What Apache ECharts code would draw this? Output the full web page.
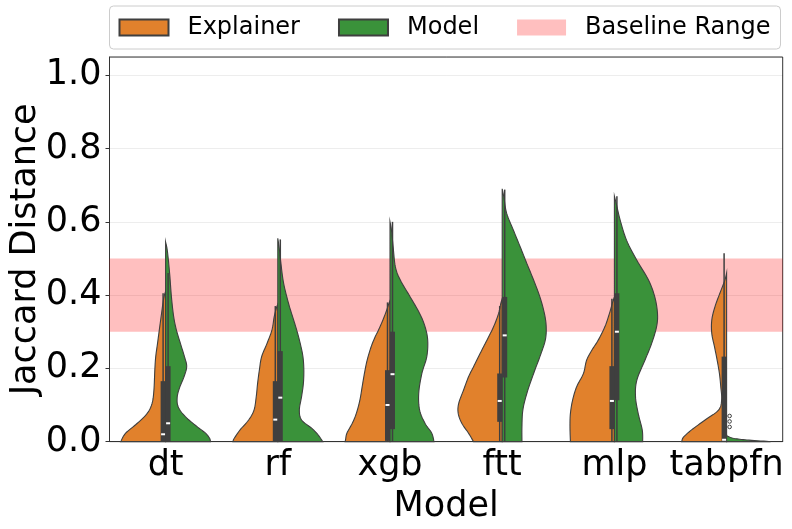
<!DOCTYPE html>
<html>
<head>
<meta charset="utf-8">
<script src="https://cdn.jsdelivr.net/npm/echarts@6/dist/echarts.min.js"></script>
<style>html,body{margin:0;padding:0;background:#fff;}#chart{width:792px;height:529px;}</style>
</head>
<body>
<div id="chart"></div>
<script>
// ---------- data ----------
const categories = ['dt', 'rf', 'xgb', 'ftt', 'mlp', 'tabpfn'];
const yTickLabels = ['0.0', '0.2', '0.4', '0.6', '0.8', '1.0'];
const baselineRange = [0.3, 0.5];

// half-violin profiles: [value, relative density] from bottom to top
const explainerViolins = [
  [[0,1.0],[0.023,0.89],[0.05,0.63],[0.077,0.41],[0.105,0.30],[0.141,0.26],[0.196,0.24],[0.232,0.22],[0.268,0.18],[0.305,0.14],[0.341,0.10],[0.377,0.06],[0.398,0.03],[0.41,0]],
  [[0,1.0],[0.009,0.97],[0.032,0.84],[0.059,0.65],[0.086,0.53],[0.123,0.48],[0.159,0.45],[0.196,0.41],[0.232,0.36],[0.268,0.24],[0.305,0.13],[0.341,0.08],[0.365,0.03],[0.375,0]],
  [[0,1.0],[0.005,0.99],[0.023,0.96],[0.05,0.84],[0.077,0.75],[0.114,0.67],[0.150,0.62],[0.186,0.57],[0.222,0.51],[0.259,0.42],[0.286,0.33],[0.314,0.22],[0.350,0.10],[0.375,0.03],[0.385,0]],
  [[0,0.64],[0.023,0.75],[0.05,0.90],[0.077,0.98],[0.104,0.97],[0.141,0.86],[0.177,0.75],[0.204,0.64],[0.241,0.49],[0.277,0.34],[0.314,0.19],[0.350,0.08],[0.378,0.03],[0.39,0]],
  [[0,0.98],[0.041,0.99],[0.077,0.98],[0.114,0.93],[0.150,0.84],[0.186,0.69],[0.222,0.62],[0.250,0.50],[0.277,0.36],[0.314,0.21],[0.350,0.11],[0.38,0.04],[0.395,0]],
  [[0,1.0],[0.012,0.96],[0.032,0.78],[0.059,0.48],[0.086,0.18],[0.114,0.11],[0.150,0.13],[0.186,0.16],[0.222,0.21],[0.259,0.27],[0.295,0.33],[0.332,0.33],[0.368,0.26],[0.405,0.15],[0.44,0.04],[0.46,0]]
];
const modelViolins = [
  [[0,1.0],[0.009,0.98],[0.023,0.89],[0.041,0.70],[0.068,0.44],[0.095,0.28],[0.123,0.26],[0.150,0.32],[0.177,0.41],[0.205,0.47],[0.232,0.42],[0.268,0.33],[0.305,0.24],[0.341,0.18],[0.395,0.13],[0.459,0.09],[0.52,0.04],[0.545,0]],
  [[0,1.0],[0.018,0.90],[0.036,0.76],[0.059,0.53],[0.086,0.48],[0.123,0.53],[0.159,0.57],[0.196,0.58],[0.232,0.56],[0.268,0.50],[0.305,0.42],[0.341,0.33],[0.377,0.24],[0.432,0.13],[0.486,0.07],[0.53,0.03],[0.555,0]],
  [[0,0.98],[0.023,0.93],[0.05,0.78],[0.086,0.66],[0.132,0.64],[0.186,0.71],[0.232,0.82],[0.277,0.84],[0.314,0.78],[0.350,0.66],[0.395,0.45],[0.441,0.23],[0.477,0.12],[0.532,0.07],[0.58,0.03],[0.60,0]],
  [[0,0.44],[0.041,0.44],[0.086,0.46],[0.132,0.55],[0.186,0.70],[0.232,0.84],[0.277,0.96],[0.314,0.98],[0.350,0.94],[0.395,0.84],[0.441,0.70],[0.486,0.55],[0.532,0.40],[0.577,0.25],[0.623,0.10],[0.665,0.04],[0.69,0]],
  [[0,0.63],[0.032,0.62],[0.077,0.53],[0.123,0.47],[0.168,0.50],[0.222,0.68],[0.268,0.83],[0.314,0.94],[0.350,0.96],[0.395,0.90],[0.441,0.76],[0.495,0.50],[0.550,0.27],[0.604,0.13],[0.645,0.05],[0.67,0]],
  [[0,0.98],[0.004,0.50],[0.008,0.20],[0.013,0.05],[0.018,0]]
];

// inner boxes: [whisker low, q1, median, q3, whisker high]
const explainerBoxes = [
  [0, 0, 0.02, 0.165, 0.405],
  [0, 0, 0.06, 0.165, 0.37],
  [0, 0.002, 0.10, 0.195, 0.38],
  [0, 0.054, 0.111, 0.186, 0.37],
  [0, 0.034, 0.111, 0.206, 0.39],
  [0, 0, 0.005, 0.232, 0.514]
];
const modelBoxes = [
  [0, 0, 0.05, 0.206, 0.46],
  [0, 0, 0.12, 0.247, 0.552],
  [0, 0.034, 0.184, 0.30, 0.60],
  [0, 0.175, 0.29, 0.395, 0.688],
  [0, 0.113, 0.30, 0.405, 0.67],
  [0, 0, 0, 0, 0]
];
const modelOutliers = [[5, 0.07], [5, 0.055], [5, 0.04]];

// ---------- styles ----------
const ORANGE = '#e1812c';
const GREEN = '#3a923a';
const EDGE = '#3f3f3f';
const PINK = 'rgba(255,0,0,0.25)';
const FONT = 'DejaVu Sans';

function catmull(pts, steps) {
  const out = [];
  const n = pts.length;
  for (let i = 0; i < n - 1; i++) {
    const p0 = pts[i - 1] || pts[i], p1 = pts[i], p2 = pts[i + 1], p3 = pts[i + 2] || pts[i + 1];
    for (let s = 0; s < steps; s++) {
      const t = s / steps, t2 = t * t, t3 = t2 * t;
      const f = (a, b, c, d) => 0.5 * ((2 * b) + (-a + c) * t + (2 * a - 5 * b + 4 * c - d) * t2 + (-a + 3 * b - 3 * c + d) * t3);
      out.push([f(p0[0], p1[0], p2[0], p3[0]), f(p0[1], p1[1], p2[1], p3[1])]);
    }
  }
  out.push(pts[n - 1]);
  return out;
}

function violinRender(profiles, side, color) {
  return function (params, api) {
    const i = api.value(0);
    const prof = profiles[i];
    const band = api.size([1, 0])[0];
    const cx = api.coord([i, 0])[0];
    const pts = prof.map(function (p) {
      const c = api.coord([i, p[0]]);
      return [cx + side * p[1] * 0.4 * band, c[1]];
    });
    const sm = catmull(pts, 8).map(function (p) {
      return [side < 0 ? Math.min(p[0], cx) : Math.max(p[0], cx), p[1]];
    });
    const poly = [[cx, pts[0][1]]].concat(sm).concat([[cx, pts[pts.length - 1][1]]]);
    return {
      type: 'polygon',
      shape: { points: poly },
      style: { fill: color, stroke: EDGE, lineWidth: 1.1 }
    };
  };
}

function boxRender(boxes, side) {
  return function (params, api) {
    const i = api.value(0);
    const b = boxes[i];
    const cx = api.coord([i, 0])[0];
    const bw = 5;
    const x0 = side < 0 ? cx - bw : cx;
    const mx = x0 + bw / 2;
    const yLo = api.coord([i, b[0]])[1], yQ1 = api.coord([i, b[1]])[1], yMed = api.coord([i, b[2]])[1],
          yQ3 = api.coord([i, b[3]])[1], yHi = api.coord([i, b[4]])[1];
    const children = [];
    if (b[4] > b[0]) {
      children.push({ type: 'line', shape: { x1: mx, y1: yLo, x2: mx, y2: yHi }, style: { stroke: EDGE, lineWidth: 1.5 } });
    }
    if (b[3] > b[1]) {
      children.push({ type: 'rect', shape: { x: x0, y: yQ3, width: bw, height: yQ1 - yQ3 }, style: { fill: EDGE } });
      children.push({ type: 'rect', shape: { x: mx - 2, y: yMed - 1, width: 4, height: 2 }, style: { fill: '#ffffff' } });
    }
    return { type: 'group', children: children };
  };
}

const chart = echarts.init(document.getElementById('chart'), null, { renderer: 'canvas' });
const catData = categories.map(function (c, i) { return [i, 0]; });

const option = {
  animation: false,
  backgroundColor: '#ffffff',
  textStyle: { fontFamily: FONT },
  legend: {
    left: 109.5,
    top: 6,
    data: ['Explainer', 'Model', 'Baseline Range'],
    itemWidth: 49,
    itemHeight: 16,
    itemGap: 38,
    padding: [9, 10, 9, 9],
    borderColor: '#cccccc',
    borderWidth: 1,
    borderRadius: 4,
    icon: 'rect',
    textStyle: { fontFamily: FONT, fontSize: 24, color: '#000', padding: [0, 0, 0, 14], lineHeight: 25 }
  },
  grid: {
    left: 109.5, right: 9.3, top: 57, bottom: 87.4,
    outerBoundsMode: 'none', containLabel: false,
    show: true, borderColor: '#333', borderWidth: 1, backgroundColor: 'transparent'
  },
  xAxis: {
    type: 'category',
    data: categories,
    name: 'Model',
    nameLocation: 'middle',
    nameGap: 48,
    nameMoveOverlap: false,
    nameTextStyle: { fontFamily: FONT, fontSize: 35, color: '#000' },
    axisLine: { lineStyle: { color: '#333', width: 1 } },
    axisTick: { alignWithLabel: true, length: 4, lineStyle: { color: '#333' } },
    axisLabel: { fontFamily: FONT, fontSize: 35, color: '#000', margin: 7, interval: 0 },
    splitLine: { show: false }
  },
  yAxis: {
    type: 'value',
    min: 0, max: 1.05, interval: 0.2,
    name: 'Jaccard Distance',
    nameLocation: 'middle',
    nameGap: 66,
    nameMoveOverlap: false,
    nameTextStyle: { fontFamily: FONT, fontSize: 35, color: '#000' },
    axisLine: { show: true, lineStyle: { color: '#333', width: 1 } },
    axisTick: { show: true, length: 4, lineStyle: { color: '#333' } },
    axisLabel: {
      fontFamily: FONT, fontSize: 35, color: '#000', margin: 8,
      formatter: function (v) { const k = Math.round(v / 0.2); return yTickLabels[k] !== undefined ? yTickLabels[k] : ''; }
    },
    splitLine: { show: true, lineStyle: { color: 'rgba(0,0,0,0.07)', width: 1 } }
  },
  series: [
    {
      name: 'Baseline Range', type: 'custom', z: 1,
      itemStyle: { color: PINK, borderWidth: 0 },
      data: [[0, baselineRange[0]]],
      encode: { x: 0, y: 1 },
      renderItem: function (params, api) {
        const cs = params.coordSys;
        const yTop = api.coord([0, baselineRange[1]])[1];
        const yBot = api.coord([0, baselineRange[0]])[1];
        return { type: 'rect', shape: { x: cs.x, y: yTop, width: cs.width, height: yBot - yTop }, style: { fill: PINK } };
      }
    },
    {
      name: 'Explainer', type: 'custom', z: 2,
      itemStyle: { color: ORANGE, borderColor: EDGE, borderWidth: 1 },
      data: catData, encode: { x: 0, y: 1 },
      renderItem: violinRender(explainerViolins, -1, ORANGE)
    },
    {
      name: 'Model', type: 'custom', z: 2,
      itemStyle: { color: GREEN, borderColor: EDGE, borderWidth: 1 },
      data: catData, encode: { x: 0, y: 1 },
      renderItem: violinRender(modelViolins, 1, GREEN)
    },
    {
      name: 'Explainer box', type: 'custom', z: 3,
      data: catData, encode: { x: 0, y: 1 },
      renderItem: boxRender(explainerBoxes, -1)
    },
    {
      name: 'Model box', type: 'custom', z: 3,
      data: catData, encode: { x: 0, y: 1 },
      renderItem: boxRender(modelBoxes, 1)
    },
    {
      name: 'Model outliers', type: 'custom', z: 3,
      data: modelOutliers, encode: { x: 0, y: 1 },
      renderItem: function (params, api) {
        const i = api.value(0);
        const c = api.coord([i, api.value(1)]);
        return { type: 'circle', shape: { cx: c[0] + 3, cy: c[1], r: 1.8 }, style: { fill: 'none', stroke: EDGE, lineWidth: 1 } };
      }
    }
  ]
};
chart.setOption(option);
</script>
</body>
</html>
